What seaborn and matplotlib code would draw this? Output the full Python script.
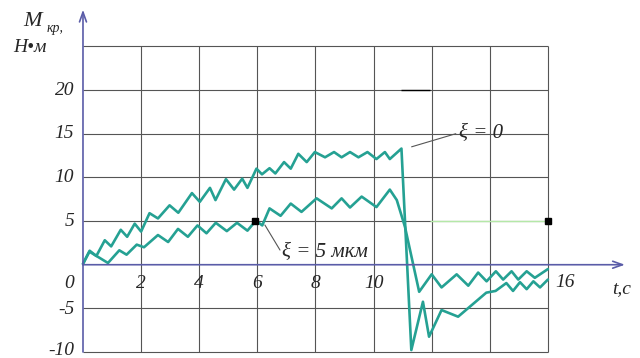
import numpy as np
import pandas as pd
import seaborn as sns
from matplotlib import pyplot as plt

# krzywa xi = 0
t_xi0 = [0, 0.23, 0.46, 0.75, 0.97, 1.3, 1.52, 1.78, 2.0, 2.29, 2.58, 2.98, 3.28,
         3.75, 4.02, 4.37, 4.56, 4.92, 5.2, 5.48, 5.66, 5.97, 6.16, 6.42, 6.62,
         6.92, 7.15, 7.41, 7.7, 7.98, 8.33, 8.64, 8.9, 9.19, 9.48, 9.79, 10.1,
         10.39, 10.56, 10.96, 11.3, 11.7, 11.91, 12.34, 12.91, 13.88, 14.2,
         14.57, 14.8, 15.04, 15.27, 15.5, 15.73, 16.0]
m_xi0 = [0.1, 1.6, 1.0, 2.8, 2.1, 4.0, 3.2, 4.7, 3.8, 5.9, 5.3, 6.8, 5.95,
         8.2, 7.2, 8.8, 7.4, 9.8, 8.6, 9.85, 8.8, 11.0, 10.35, 11.05, 10.45,
         11.75, 11.0, 12.7, 11.75, 12.9, 12.3, 12.9, 12.3, 12.9, 12.3, 12.9, 12.1,
         12.9, 12.1, 13.3, -9.77, -4.24, -8.24, -5.19, -5.95, -3.2, -3.0,
         -2.1, -3.0, -2.0, -2.8, -1.9, -2.6, -1.7]

# krzywa xi = 5 mkm
t_xi5 = [0, 0.22, 0.86, 1.25, 1.5, 1.85, 2.1, 2.58, 2.93, 3.27, 3.61, 3.94,
         4.25, 4.57, 4.95, 5.3, 5.66, 5.95, 6.17, 6.42, 6.8, 7.15, 7.52, 8.04,
         8.56, 8.9, 9.19, 9.59, 10.1, 10.56, 10.8, 11.08, 11.57, 12.0, 12.34,
         12.86, 13.26, 13.6, 13.89, 14.21, 14.46, 14.75, 14.98, 15.27, 15.55, 16.0]
m_xi5 = [0.1, 1.5, 0.2, 1.65, 1.15, 2.3, 2.0, 3.4, 2.6, 4.1, 3.2, 4.5,
         3.6, 4.8, 3.85, 4.8, 3.9, 5.05, 4.5, 6.45, 5.6, 7.0, 6.05, 7.6,
         6.45, 7.6, 6.55, 7.8, 6.6, 8.6, 7.4, 4.35, -3.1, -1.1, -2.6,
         -1.1, -2.4, -0.9, -1.9, -0.75, -1.7, -0.75, -1.7, -0.75, -1.5, -0.5]

x_grid = [2, 4, 6, 8, 10, 12, 14, 16]
y_grid = [-10, -5, 5, 10, 15, 20, 25]
x_ticklabels = [2, 4, 6, 8, 10]
y_ticklabels = [5, 10, 15, 20]

sns.set_style("white")
plt.rcParams["font.family"] = ["Liberation Serif", "DejaVu Serif"]

fig = plt.figure(figsize=(6.4, 3.58), dpi=100)
ax = fig.add_axes([0, 0, 1, 1])
ax.set_xlim(-2.856, 19.17)
ax.set_ylim(-10.68, 30.31)
ax.axis("off")

grid_c = "#555555"
axis_c = "#5a5ca8"
teal = "#25a193"

ax.vlines(x_grid, -10, 25, color=grid_c, lw=0.8)
ax.hlines(y_grid, 0, 16, color=grid_c, lw=0.8)
ax.hlines(5, 11.94, 16, color="#b5e8a8", lw=1.0)
ax.hlines(20, 10.96, 11.94, color="black", lw=1.0)

# osie ze strzalkami
ax.plot([0, 0], [-10, 0], color=axis_c, lw=1.2)
ax.annotate("", xy=(0, 29.2), xytext=(0, 0),
            arrowprops=dict(arrowstyle="->,head_length=0.7,head_width=0.25",
                            color=axis_c, lw=1.2, shrinkA=0, shrinkB=0))
ax.annotate("", xy=(18.65, 0), xytext=(0, 0),
            arrowprops=dict(arrowstyle="->,head_length=0.7,head_width=0.25",
                            color=axis_c, lw=1.2, shrinkA=0, shrinkB=0))

df0 = pd.DataFrame({"t": t_xi0, "M": m_xi0})
df5 = pd.DataFrame({"t": t_xi5, "M": m_xi5})
sns.lineplot(data=df0, x="t", y="M", sort=False, estimator=None, color=teal, lw=1.9, ax=ax)
sns.lineplot(data=df5, x="t", y="M", sort=False, estimator=None, color=teal, lw=1.9, ax=ax)

ax.plot([5.92, 16], [5.04, 5], "s", color="black", markersize=4)

# opisy
fs = 14
for v in y_ticklabels:
    ax.text(-0.3, v, str(v), ha="right", va="center", fontsize=fs, style="italic")
ax.text(-0.3, -2.1, "0", ha="right", va="center", fontsize=fs, style="italic")
ax.text(-0.3, -5.1, "-5", ha="right", va="center", fontsize=fs, style="italic")
ax.text(-0.3, -9.8, "-10", ha="right", va="center", fontsize=fs, style="italic")
for v in x_ticklabels:
    ax.text(v, -2.1, str(v), ha="center", va="center", fontsize=fs, style="italic")
ax.text(16.6, -2.0, "16", ha="center", va="center", fontsize=fs, style="italic")
ax.text(18.55, -2.7, "t,c", ha="center", va="center", fontsize=fs, style="italic")

ax.text(-1.75, 27.8, "M", ha="center", va="center", fontsize=16, style="italic")
ax.text(-0.95, 27.0, "кр,", ha="center", va="center", fontsize=10, style="italic")
ax.text(-1.82, 24.9, "Н•м", ha="center", va="center", fontsize=fs, style="italic")

ax.plot([11.31, 12.83], [13.5, 15.0], color="#555555", lw=0.8)
ax.text(12.95, 15.05, "ξ = 0", ha="left", va="center", fontsize=15, style="italic")
ax.plot([6.26, 6.78], [4.55, 1.68], color="#555555", lw=0.8)
ax.text(6.85, 1.45, "ξ = 5 мкм", ha="left", va="center", fontsize=15, style="italic")

plt.savefig("out.png", dpi=100)
